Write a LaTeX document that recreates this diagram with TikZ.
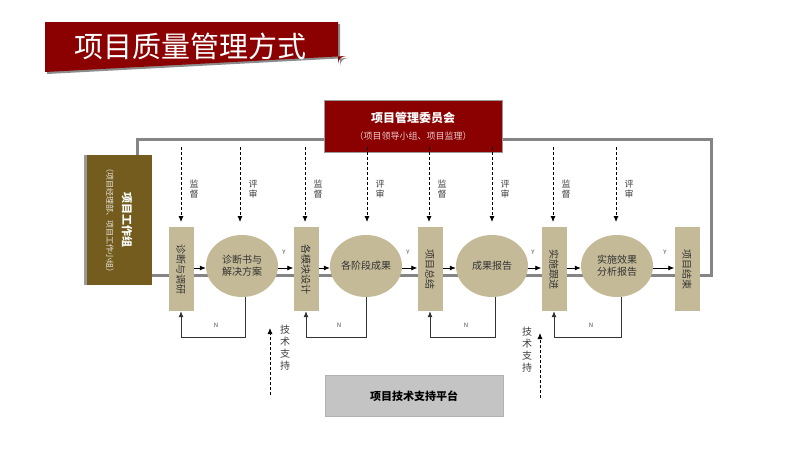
\documentclass[tikz,border=0pt]{standalone}
\usepackage{fontspec}
\setmainfont{Noto Sans CJK SC}
\usetikzlibrary{arrows.meta,shapes.geometric}
\definecolor{dred}{HTML}{8B0000}
\definecolor{olive}{HTML}{735C1E}
\definecolor{tan}{HTML}{C4BA97}
\definecolor{lgray}{HTML}{C4C4C4}
\definecolor{lineg}{HTML}{858585}
\begin{document}
\begin{tikzpicture}[x=1pt,y=-1pt,
  stage/.style={fill=tan,minimum width=25pt,minimum height=84pt,inner sep=0pt},
  ell/.style={ellipse,fill=tan,minimum width=72pt,minimum height=62pt,inner sep=0pt,font=\fontsize{10}{12}\selectfont,align=center,text=black!80},
  vt/.style={rotate=-90,font=\fontsize{10}{11}\selectfont,text=black!80},
  darr/.style={densely dashed,-{Latex[length=6pt,width=5pt]},thick},
  lab/.style={font=\fontsize{9}{10}\selectfont,align=center,text=black!75},
  flow/.style={-{Latex[length=6pt,width=5pt]},thick},
  back/.style={-{Latex[length=6pt,width=5pt]},line width=0.8pt,black!80},
  small/.style={font=\fontsize{6}{7}\selectfont,text=black!70}]
\useasboundingbox (0,0) rectangle (800,450);
\fill[white] (0,0) rectangle (800,450);
% title
\fill[black!45] (47,24) -- (340,24) -- (340,66) arc[start angle=0,end angle=90,radius=-8] -- (47,74) -- cycle;
\fill[dred] (45,22) -- (338,22) -- (338,64) arc[start angle=0,end angle=90,radius=-8] -- (45,72) -- cycle;
\node[text=white,font=\fontsize{29}{32}\selectfont] (title) at (190,46) {项目质量管理方式};
% gray loop
\draw[lineg,line width=3pt] (137,155) -- (137,139) -- (711,139) -- (711,275) -- (152,275);
% committee
\node[fill=dred,draw=black!40,minimum width=178pt,minimum height=52pt,inner sep=0pt] (com) at (413,126) {};
\node[text=white,font=\bfseries\fontsize{12}{14}\selectfont] (comt) at (413,118) {项目管理委员会};
\node[text=white!80!dred,font=\fontsize{9}{10}\selectfont] (coms) at (413,136) {（项目领导小组、项目监理）};
% left box
\fill[black!40] (84,155) rectangle (88,285);
\node[fill=olive,minimum width=65pt,minimum height=130pt,inner sep=0pt] (wg) at (119,220) {};
\node[rotate=-90,text=white,font=\bfseries\fontsize{11}{12}\selectfont] (wgt) at (127,220) {项目工作组};
\node[rotate=-90,text=white!85!olive,font=\fontsize{8}{9}\selectfont] (wgs) at (110,220) {（项目经理部、项目工作小组）};
% stages
\node[stage] (s1) at (181,269) {}; \node[vt] at (s1) {诊断与调研};
\node[stage] (s2) at (306,269) {}; \node[vt] at (s2) {各模块设计};
\node[stage] (s3) at (430,269) {}; \node[vt] at (s3) {项目总结};
\node[stage] (s4) at (554,269) {}; \node[vt] at (s4) {实施跟进};
\node[stage] (s5) at (687,269) {}; \node[vt] at (s5) {项目结束};
\node[ell] (e1) at (242,266) {诊断书与\\解决方案};
\node[ell] (e2) at (366,266) {各阶段成果};
\node[ell] (e3) at (492,266) {成果报告};
\node[ell] (e4) at (617,266) {实施效果\\分析报告};
% flow arrows
\foreach \a/\b in {s1/e1,e1/s2,s2/e2,e2/s3,s3/e3,e3/s4,s4/e4,e4/s5}
  \draw[flow] (\a.east |- 0,268) -- (\b.west |- 0,268);
\foreach \x in {284,408,533,665} \node[small] at (\x,252) {Y};
% dashed supervision arrows
\foreach \x/\t in {181/监\\督,240/评\\审,305/监\\督,367/评\\审,429/监\\督,492/评\\审,553/监\\督,616/评\\审}{
  \coordinate (d\x) at (\x,147);
  \draw[darr] (d\x) -- (\x,222);
  \node[lab] at (\x+13,189) {\t};}
% feedback
\foreach \s/\ex in {s1/245,s2/366,s3/495,s4/621}
  \draw[back] (\ex,297) -- (\ex,337) -- (\s.south |- 0,337) -- (\s.south);
\node[small] at (216,325) {N};
\node[small] at (339,325) {N};
\node[small] at (466,325) {N};
\node[small] at (591,325) {N};
% tech support
\node[lab,font=\fontsize{10}{12}\selectfont] (ts1) at (285,348) {技\\术\\支\\持};
\node[lab,font=\fontsize{10}{12}\selectfont] (ts2) at (527,350) {技\\术\\支\\持};
\coordinate (t1) at (270,395); \coordinate (t2) at (540,398);
\draw[darr] (t1) -- (270,328);
\draw[darr] (t2) -- (540,333);
% platform
\node[fill=lgray,draw=black!30,minimum width=178pt,minimum height=41pt,inner sep=0pt,font=\bfseries\fontsize{11}{13}\selectfont] (plat) at (414,396) {项目技术支持平台};
\end{tikzpicture}
\end{document}
